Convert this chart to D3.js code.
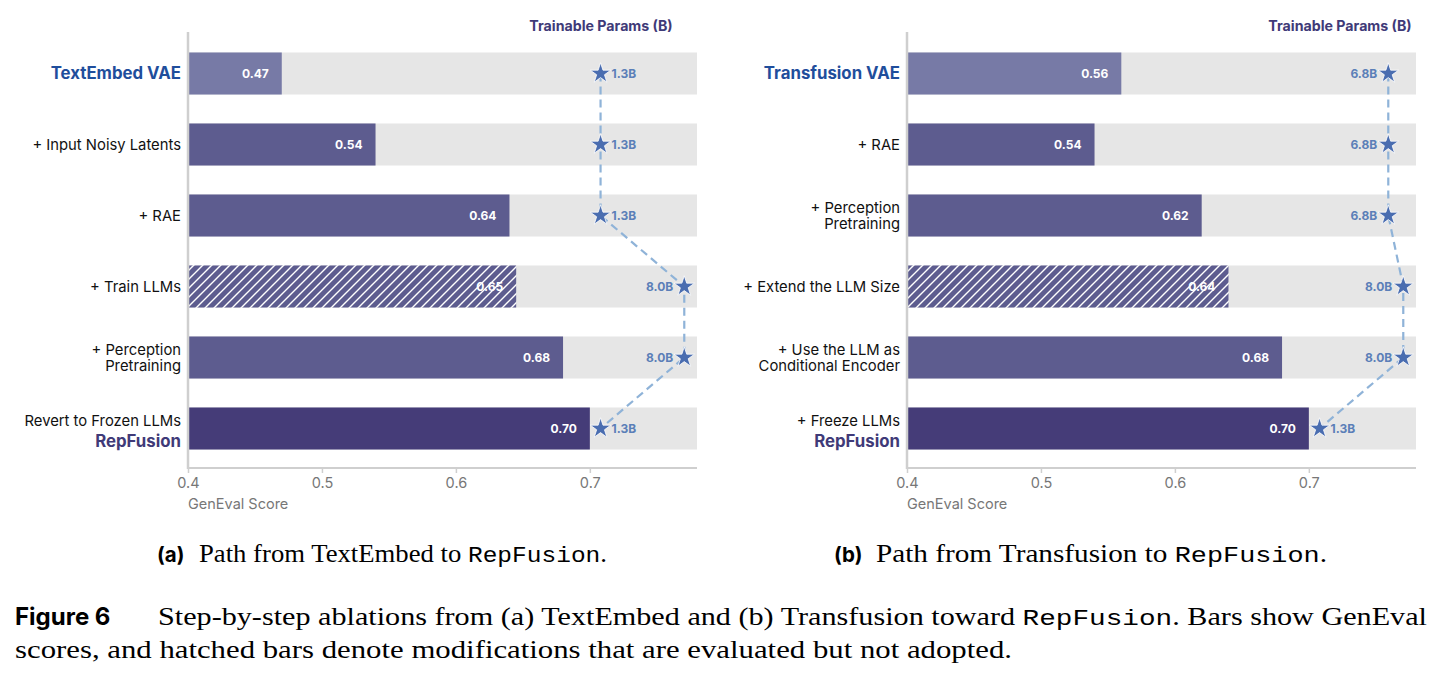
<!DOCTYPE html>
<html><head><meta charset="utf-8">
<script src="https://cdn.jsdelivr.net/npm/d3@7"></script>
<style>
body{margin:0;background:#fff;}
svg{display:block;}
</style></head>
<body><svg id="chart" width="1442" height="680"></svg>
<script>
// ---------- data ----------
const labelsA = [["TextEmbed VAE"], ["+ Input Noisy Latents"], ["+ RAE"], ["+ Train LLMs"], ["+ Perception", "Pretraining"], ["Revert to Frozen LLMs", "RepFusion"]];
const scoresA = [0.47, 0.54, 0.64, 0.645, 0.68, 0.70];
const scoreTextA = ["0.47", "0.54", "0.64", "0.65", "0.68", "0.70"];
const paramsA = [1.3, 1.3, 1.3, 8.0, 8.0, 1.3];
const hatchedA = [false, false, false, true, false, false];

const labelsB = [["Transfusion VAE"], ["+ RAE"], ["+ Perception", "Pretraining"], ["+ Extend the LLM Size"], ["+ Use the LLM as", "Conditional Encoder"], ["+ Freeze LLMs", "RepFusion"]];
const scoresB = [0.56, 0.54, 0.62, 0.64, 0.68, 0.70];
const scoreTextB = ["0.56", "0.54", "0.62", "0.64", "0.68", "0.70"];
const paramsB = [6.8, 6.8, 6.8, 8.0, 8.0, 1.3];
const hatchedB = [false, false, false, true, false, false];

const xTicks = [0.4, 0.5, 0.6, 0.7];
const xTickLabels = ["0.4", "0.5", "0.6", "0.7"];
const paramTitle = "Trainable Params (B)";
const axisTitle = "GenEval Score";

// ---------- drawing ----------
const svg = d3.select("#chart");
const FONT = "Inter, 'Noto Sans', sans-serif";
const defs = svg.append("defs");
const pat = defs.append("pattern").attr("id", "hatch").attr("patternUnits", "userSpaceOnUse")
  .attr("width", 9).attr("height", 9);
pat.append("rect").attr("width", 9).attr("height", 9).attr("fill", "#5d5c8f");
pat.append("path").attr("d", "M-2,2 L2,-2 M0,9 L9,0 M7,11 L11,7").attr("stroke", "#fff").attr("stroke-width", 1.4);

function panel(cfg) {
  const g = svg.append("g");
  const x = d3.scaleLinear().domain([0.4, 0.78]).range([cfg.x0, cfg.x0 + 509]);
  const idx = d3.range(cfg.labels.length);
  const y = d3.scaleBand().domain(idx).range([38, 464]).paddingInner(0.408).paddingOuter(0.204);
  const bw = y.bandwidth();
  const p = d3.scaleLinear().domain([1.3, 8.0]).range([x(0.708), x(0.7705)]);

  g.selectAll(".bg").data(idx).join("rect")
    .attr("x", x(0.4)).attr("y", d => y(d)).attr("width", x(0.78) - x(0.4)).attr("height", bw)
    .attr("fill", "#e6e6e6");
  const n = idx.length;
  g.selectAll(".bar").data(idx).join("rect")
    .attr("x", x(0.4)).attr("y", d => y(d)).attr("width", d => x(cfg.scores[d]) - x(0.4)).attr("height", bw)
    .attr("fill", d => cfg.hatched[d] ? "url(#hatch)" : (d === 0 ? "#777aa6" : d === n - 1 ? "#453c78" : "#5d5c8f"));
  g.selectAll(".val").data(idx).join("text")
    .attr("x", d => x(cfg.scores[d]) - 13).attr("y", d => y(d) + bw / 2).attr("dy", "0.35em")
    .attr("text-anchor", "end").attr("font-family", FONT).attr("font-weight", 700).attr("font-size", 12)
    .attr("fill", "#fff").text(d => cfg.scoreText[d]);

  g.append("line").attr("x1", x(0.4)).attr("x2", x(0.4)).attr("y1", 32).attr("y2", 469)
    .attr("stroke", "#cfcfcf").attr("stroke-width", 2.5);
  const ax = g.append("g").attr("transform", "translate(0,468)")
    .call(d3.axisBottom(x).tickValues(xTicks).tickFormat((d, i) => xTickLabels[i]).tickSize(5).tickPadding(5));
  ax.select(".domain").attr("stroke", "#cfcfcf").attr("stroke-width", 2).attr("d", `M${x(0.4)},0H${x(0.78)}`);
  ax.selectAll(".tick line").attr("stroke", "#cfcfcf").attr("stroke-width", 1.5);
  ax.selectAll(".tick text").attr("font-family", FONT).attr("font-size", 14.5).attr("fill", "#777");
  g.append("text").attr("x", x(0.4)).attr("y", 509).attr("font-family", FONT).attr("font-size", 14.5)
    .attr("fill", "#777").text(axisTitle);

  const lx = x(0.4) - 7;
  idx.forEach(i => {
    const lines = cfg.labels[i];
    const cy = y(i) + bw / 2;
    const t = g.append("text").attr("x", lx).attr("text-anchor", "end").attr("font-family", FONT);
    if (lines.length === 1) {
      const first = i === 0;
      t.attr("y", cy).attr("dy", "0.35em").attr("font-size", first ? 16.8 : 14.8)
        .attr("font-weight", first ? 700 : 400).attr("fill", first ? "#1f4e9c" : "#111").text(lines[0]);
    } else {
      const special = lines[1] === "RepFusion";
      t.append("tspan").attr("x", lx).attr("y", cy - 8).attr("dy", "0.35em")
        .attr("font-size", 14.8).attr("fill", "#111").text(lines[0]);
      t.append("tspan").attr("x", lx).attr("y", special ? cy + 13 : cy + 8).attr("dy", "0.35em")
        .attr("font-size", special ? 16.8 : 14.8).attr("font-weight", special ? 700 : 400)
        .attr("fill", special ? "#3f3a78" : "#111").text(lines[1]);
    }
  });

  g.append("text").attr("x", cfg.titleX).attr("y", 31).attr("text-anchor", "middle")
    .attr("font-family", FONT).attr("font-weight", 700).attr("font-size", 14.2).attr("fill", "#3f3a78").text(paramTitle);

  const pts = idx.map(i => [p(cfg.params[i]), y(i) + bw / 2]);
  g.append("path").attr("d", d3.line()(pts)).attr("fill", "none").attr("stroke", "#8fb3d8")
    .attr("stroke-width", 2.2).attr("stroke-dasharray", "8,5");
  g.selectAll(".star").data(idx).join("path")
    .attr("transform", i => `translate(${pts[i][0]},${pts[i][1]})`)
    .attr("d", d3.symbol(d3.symbolStar, 130)).attr("fill", "#4a6db0").attr("stroke", "#fff").attr("stroke-width", 0.8);
  g.selectAll(".plab").data(idx).join("text")
    .attr("x", i => pts[i][0] + (pts[i][0] > x(0.74) ? -11 : 11)).attr("y", i => pts[i][1]).attr("dy", "0.35em")
    .attr("text-anchor", i => pts[i][0] > x(0.74) ? "end" : "start")
    .attr("font-family", FONT).attr("font-weight", 700).attr("font-size", 12).attr("fill", "#5b7fb8")
    .text(i => cfg.params[i].toFixed(1) + "B");
}

panel({x0: 188, labels: labelsA, scores: scoresA, scoreText: scoreTextA, params: paramsA, hatched: hatchedA, titleX: 601});
panel({x0: 907, labels: labelsB, scores: scoresB, scoreText: scoreTextB, params: paramsB, hatched: hatchedB, titleX: 1340});

// ---------- captions ----------
const SERIF = "'Liberation Serif', 'DejaVu Serif', serif";
const MONO = "'Liberation Mono', 'DejaVu Sans Mono', monospace";
function fit(sel, width) {
  sel.attr("textLength", width).attr("lengthAdjust", "spacingAndGlyphs");
}
function subcap(x0, x1, letter, name) {
  svg.append("text").attr("x", x0).attr("y", 562).attr("font-family", FONT).attr("font-weight", 700)
    .attr("font-size", 20.5).text(letter);
  const t = svg.append("text").attr("x", x0 + 42).attr("y", 562).attr("font-size", 24.5).attr("font-family", SERIF);
  t.append("tspan").text("Path from " + name + " to ");
  t.append("tspan").attr("font-family", MONO).attr("font-size", 22.5).text("RepFusion");
  t.append("tspan").text(".");
  fit(t, x1 - x0 - 42);
}
subcap(157, 607, "(a)", "TextEmbed");
subcap(834, 1327, "(b)", "Transfusion");

svg.append("text").attr("x", 15).attr("y", 625).attr("font-family", FONT).attr("font-weight", 700)
  .attr("font-size", 24).text("Figure 6");
const l1 = svg.append("text").attr("x", 158).attr("y", 625).attr("font-size", 24.5).attr("font-family", SERIF);
l1.append("tspan").text("Step-by-step ablations from (a) TextEmbed and (b) Transfusion toward ");
l1.append("tspan").attr("font-family", MONO).attr("font-size", 22.5).text("RepFusion");
l1.append("tspan").text(". Bars show GenEval");
fit(l1, 1427 - 158);
const l2 = svg.append("text").attr("x", 15).attr("y", 658).attr("font-size", 24.5).attr("font-family", SERIF)
  .text("scores, and hatched bars denote modifications that are evaluated but not adopted.");
fit(l2, 1012 - 15);
</script></body></html>
